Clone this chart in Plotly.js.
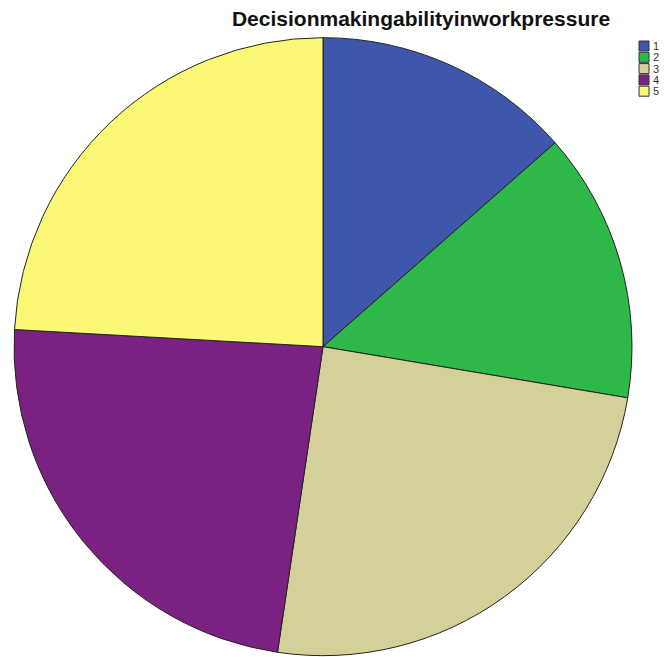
<!DOCTYPE html>
<html>
<head>
<meta charset="utf-8">
<script src="https://cdn.plot.ly/plotly-3.0.1.min.js"></script>
<style>html,body{margin:0;padding:0;background:#fff;}#chart{width:664px;height:657px;}</style>
</head>
<body>
<div id="chart"></div>
<script>
var categories = ["1", "2", "3", "4", "5"];
var counts = [23, 24, 42, 40, 41];
var colors = ["#3e57ab", "#2fb84a", "#d5cf99", "#7a2181", "#fbf875"];

var W = 664, H = 657;

var trace = {
  type: "pie",
  labels: categories,
  values: counts,
  sort: false,
  direction: "clockwise",
  rotation: 0,
  textinfo: "none",
  hoverinfo: "label+value+percent",
  marker: { colors: colors, line: { color: "#222", width: 1 } },
  domain: { x: [0.0211, 0.9518], y: [0.001, 0.9437] },
  automargin: false,
  showlegend: false
};

// legend drawn as keys + labels (built from the category/colour arrays)
var shapes = [], annotations = [];
var keyX0 = 639, keyTop = 41, keySize = 10, step = 11.3;
categories.forEach(function (c, i) {
  var top = keyTop + i * step;
  shapes.push({
    type: "rect", xref: "paper", yref: "paper",
    x0: keyX0 / W, x1: (keyX0 + keySize) / W,
    y0: 1 - (top + keySize) / H, y1: 1 - top / H,
    fillcolor: colors[i], line: { color: "#333", width: 1 }
  });
  annotations.push({
    xref: "paper", yref: "paper", x: (keyX0 + keySize + 2) / W, y: 1 - (top + keySize / 2) / H,
    xanchor: "left", yanchor: "middle", showarrow: false, text: c,
    font: { family: "Liberation Sans, Arial, sans-serif", size: 11, color: "#333" }
  });
});

var layout = {
  width: W,
  height: H,
  margin: { l: 0, r: 0, t: 0, b: 0, autoexpand: false },
  paper_bgcolor: "#fff",
  showlegend: false,
  title: {
    text: "<b>Decisionmakingabilityinworkpressure</b>",
    font: { family: "Liberation Sans, Arial, sans-serif", size: 21, color: "#111" },
    x: 421 / W, xanchor: "center", y: 1 - 19 / H, yanchor: "middle"
  },
  shapes: shapes,
  annotations: annotations
};

Plotly.newPlot("chart", [trace], layout, { displayModeBar: false, staticPlot: true });
</script>
</body>
</html>
